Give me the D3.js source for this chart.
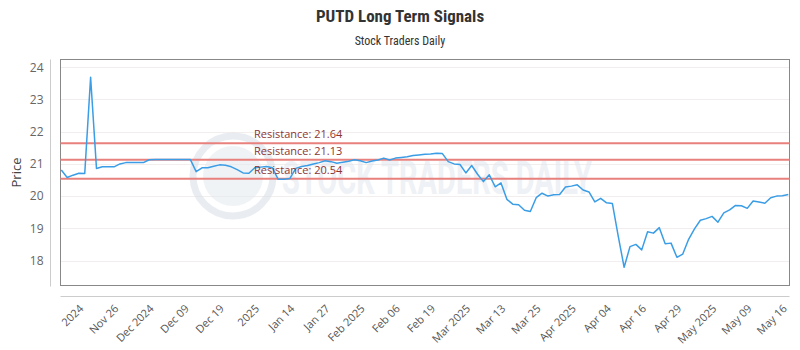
<!DOCTYPE html>
<html>
<head>
<meta charset="utf-8">
<script src="https://cdn.jsdelivr.net/npm/d3@7"></script>
<style>
  html, body { margin: 0; padding: 0; background: #fff; }
  svg { display: block; }
</style>
</head>
<body>
<svg id="chart" width="800" height="350"></svg>
<script>
// ---- data ----
const prices = [
  20.81, 20.58, 20.65, 20.71, 20.70, 23.69, 20.86, 20.91, 20.91, 20.91,
  21.00, 21.04, 21.04, 21.04, 21.04, 21.13, 21.14, 21.14, 21.14, 21.14,
  21.14, 21.14, 21.14, 20.76, 20.88, 20.88, 20.93, 20.97, 20.96, 20.91,
  20.82, 20.72, 20.71, 20.88, 20.90, 20.92, 20.88, 20.52, 20.52, 20.55,
  20.86, 20.92, 20.95, 21.00, 21.04, 21.10, 21.07, 21.02, 21.05, 21.08,
  21.13, 21.10, 21.04, 21.09, 21.12, 21.18, 21.12, 21.18, 21.20, 21.22,
  21.26, 21.28, 21.30, 21.31, 21.33, 21.32, 21.07, 21.00, 20.98, 20.72,
  20.95, 20.68, 20.45, 20.66, 20.29, 20.41, 19.90, 19.75, 19.73, 19.56,
  19.52, 19.95, 20.09, 20.00, 20.04, 20.05, 20.28, 20.31, 20.35, 20.19,
  20.13, 19.82, 19.93, 19.79, 19.77, 18.75, 17.79, 18.43, 18.50, 18.33,
  18.89, 18.85, 19.02, 18.52, 18.54, 18.10, 18.20, 18.66, 18.98, 19.25,
  19.30, 19.37, 19.19, 19.48, 19.57, 19.71, 19.70, 19.62, 19.85, 19.82,
  19.78, 19.95, 20.00, 20.01, 20.05
];
const tickLabels = ["2024","Nov 26","Dec 2024","Dec 09","Dec 19","2025","Jan 14","Jan 27",
  "Feb 2025","Feb 06","Feb 19","Mar 2025","Mar 13","Mar 25","Apr 2025","Apr 04","Apr 16",
  "Apr 29","May 2025","May 09","May 16"];
const tickIndex = [3,9,15,21,27,33,39,45,51,57,63,69,75,81,87,93,99,105,111,117,123];
const yTicks = [18, 19, 20, 21, 22, 23, 24];
const resistance = [21.64, 21.13, 20.54];

// ---- layout ----
const svg = d3.select("#chart");
const plot = { left: 60.5, right: 789.5, top: 59.5, bottom: 285.5 };

const x = d3.scaleLinear().domain([0, prices.length - 1]).range([61.3, 788.3]);
const y = d3.scaleLinear().domain([17.224, 24.242]).range([plot.bottom, plot.top]);

// title
svg.append("text").attr("x", 400).attr("y", 22).attr("text-anchor", "middle")
  .attr("font-family", "'Roboto Condensed','Liberation Sans Narrow','Open Sans',sans-serif")
  .attr("font-weight", "bold").attr("font-size", 17).attr("fill", "#333")
  .text("PUTD Long Term Signals");
svg.append("text").attr("x", 400).attr("y", 45).attr("text-anchor", "middle")
  .attr("font-family", "'Roboto Condensed','Liberation Sans Narrow','Open Sans',sans-serif")
  .attr("font-size", 12).attr("fill", "#333")
  .text("Stock Traders Daily");

// gridlines
svg.append("g").selectAll("line").data(yTicks).join("line")
  .attr("x1", plot.left).attr("x2", plot.right)
  .attr("y1", d => Math.round(y(d)) + 0.5).attr("y2", d => Math.round(y(d)) + 0.5)
  .attr("stroke", "#f3eeee").attr("stroke-width", 1);

// watermark
const wm = svg.append("g").attr("opacity", 0.5);
wm.append("circle").attr("cx", 233).attr("cy", 176).attr("r", 40)
  .attr("fill", "none").attr("stroke", "#d5dde6").attr("stroke-width", 7);
wm.append("circle").attr("cx", 233).attr("cy", 176).attr("r", 30)
  .attr("fill", "#e3e9ef");
wm.append("text").attr("x", 282).attr("y", 194)
  .attr("font-family", "'Roboto','Open Sans',sans-serif").attr("font-weight", "bold")
  .attr("font-size", 46).attr("fill", "#dfe5ec")
  .attr("textLength", 310).attr("lengthAdjust", "spacingAndGlyphs")
  .text("STOCK TRADERS DAILY");

// plot frame
svg.append("rect").attr("x", plot.left).attr("y", plot.top)
  .attr("width", plot.right - plot.left).attr("height", plot.bottom - plot.top)
  .attr("fill", "none").attr("stroke", "#888").attr("stroke-width", 1);

// y axis (offset)
const yAxis = d3.axisLeft(y).tickValues(yTicks).tickSize(0).tickPadding(0).tickFormat(d3.format("d"));
const gy = svg.append("g").attr("transform", "translate(50.5,0)").call(yAxis);
gy.select(".domain").attr("stroke", "#ccc").attr("d", `M0,${plot.top}V${plot.bottom + 1}`);
gy.selectAll("text").attr("x", -7).attr("font-family", "'Open Sans',sans-serif")
  .attr("font-size", 12).attr("fill", "#666");

svg.append("text").attr("transform", `translate(21,${(plot.top + plot.bottom) / 2}) rotate(-90)`)
  .attr("text-anchor", "middle").attr("font-family", "'Open Sans',sans-serif")
  .attr("font-size", 13).attr("fill", "#444").text("Price");

// x axis (offset)
const xAxis = d3.axisBottom(x).tickValues(tickIndex).tickSize(0).tickPadding(0)
  .tickFormat((d, i) => tickLabels[i]);
const gx = svg.append("g").attr("transform", "translate(0,296.5)").call(xAxis);
gx.select(".domain").attr("stroke", "#ccc").attr("d", `M${plot.left},0H${plot.right}`);
gx.selectAll("text")
  .attr("font-family", "'Open Sans',sans-serif").attr("font-size", 11).attr("fill", "#555")
  .attr("text-anchor", "end").attr("dy", "0.35em")
  .attr("transform", "translate(2,10) rotate(-45)").attr("y", 0);

// resistance lines
svg.append("g").selectAll("line").data(resistance).join("line")
  .attr("x1", plot.left).attr("x2", plot.right)
  .attr("y1", d => y(d)).attr("y2", d => y(d))
  .attr("stroke", "#e8817d").attr("stroke-width", 2);

// price line
svg.append("path").datum(prices)
  .attr("fill", "none").attr("stroke", "#3a9de6").attr("stroke-width", 1.5)
  .attr("stroke-linejoin", "round")
  .attr("d", d3.line().x((d, i) => x(i)).y(d => y(d)));

// resistance labels
svg.append("g").selectAll("text").data(resistance).join("text")
  .attr("x", 254).attr("y", d => y(d) - 5)
  .attr("font-family", "'Open Sans',sans-serif").attr("font-size", 11).attr("fill", "#8b3535")
  .text(d => "Resistance: " + d.toFixed(2));
</script>
</body>
</html>
